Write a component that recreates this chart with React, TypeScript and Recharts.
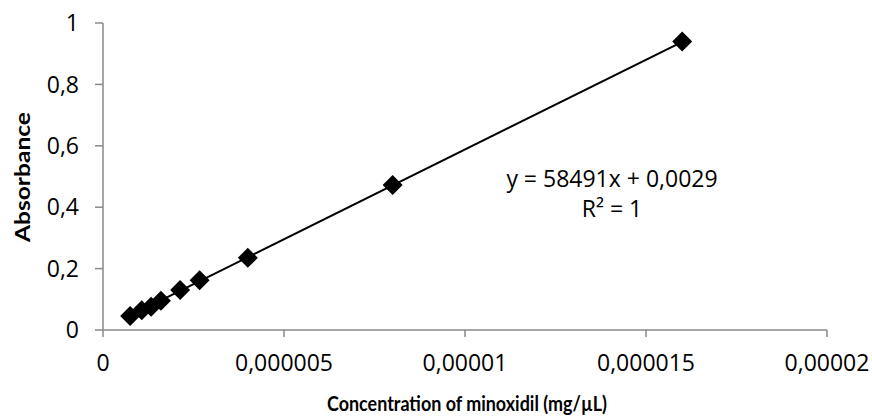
import { ScatterChart, Scatter, XAxis, YAxis } from "recharts";

// concentration (mg/µL) and absorbance
const concentrations = [0.75e-6, 1.07e-6, 1.33e-6, 1.6e-6, 2.13e-6, 2.67e-6, 4e-6, 8e-6, 16e-6];
const absorbances = [0.046, 0.064, 0.076, 0.095, 0.13, 0.162, 0.235, 0.472, 0.94];

// linear trendline endpoints (y = 58491x + 0,0029)
const trendX = [0.75e-6, 16e-6];
const trendY = [0.0468, 0.9388];

const xTicks = [0, 5e-6, 1e-5, 1.5e-5, 2e-5];
const xTickLabels = ["0", "0,000005", "0,00001", "0,000015", "0,00002"];
const yTicks = [0, 0.2, 0.4, 0.6, 0.8, 1];
const yTickLabels = ["0", "0,2", "0,4", "0,6", "0,8", "1"];

const points = concentrations.map((x, i) => ({ x, y: absorbances[i] }));
const trend = trendX.map((x, i) => ({ x, y: trendY[i] }));

const FONT = "'Open Sans', sans-serif";
const TITLE_FONT = "Lato, 'Open Sans', sans-serif";
const AXIS = "#898989";

const Diamond = (props: any) => {
  const { cx, cy } = props;
  if (cx == null || cy == null) return null;
  const r = 10;
  return (
    <polygon
      points={`${cx},${cy - r} ${cx + r},${cy} ${cx},${cy + r} ${cx - r},${cy}`}
      fill="#000"
    />
  );
};

export default function App() {
  return (
    <div style={{ position: "absolute", left: 0, top: 0, width: 872, height: 419, background: "#fff" }}>
      <ScatterChart width={872} height={419} margin={{ top: 23, right: 45, bottom: 0, left: 0 }}>
        <XAxis
          type="number"
          dataKey="x"
          domain={[0, 2e-5]}
          ticks={xTicks}
          tickFormatter={(_v, i) => xTickLabels[i]}
          height={89}
          tickSize={7}
          tickMargin={18}
          interval={0}
          stroke={AXIS}
          strokeWidth={1.5}
          tick={{ fill: "#000", fontSize: 23, fontFamily: FONT }}
        />
        <YAxis
          type="number"
          dataKey="y"
          domain={[0, 1]}
          ticks={yTicks}
          tickFormatter={(_v, i) => yTickLabels[i]}
          width={103}
          tickSize={8}
          tickMargin={16}
          interval={0}
          stroke={AXIS}
          strokeWidth={1.5}
          tick={{ fill: "#000", fontSize: 23, fontFamily: FONT }}
        />
        <Scatter
          data={trend}
          line={{ stroke: "#000", strokeWidth: 2 }}
          shape={() => null}
          isAnimationActive={false}
        />
        <Scatter data={points} shape={Diamond} isAnimationActive={false} />
      </ScatterChart>
      <svg
        width={872}
        height={419}
        style={{ position: "absolute", left: 0, top: 0, pointerEvents: "none" }}
      >
        <text x={612} y={187} textAnchor="middle" fontSize={23} fontFamily={FONT} fill="#000">
          y = 58491x + 0,0029
        </text>
        <text x={612} y={217} textAnchor="middle" fontSize={23} fontFamily={FONT} fill="#000">
          R² = 1
        </text>
        <text
          x={467}
          y={411}
          textAnchor="middle"
          fontSize={21}
          fontWeight={700}
          fontFamily={TITLE_FONT}
          fill="#000"
          textLength={280}
          lengthAdjust="spacingAndGlyphs"
        >
          Concentration of minoxidil (mg/µL)
        </text>
        <text
          x={30}
          y={177}
          transform="rotate(-90 30 177)"
          textAnchor="middle"
          fontSize={21}
          fontWeight={700}
          fontFamily={TITLE_FONT}
          fill="#000"
          textLength={130}
          lengthAdjust="spacingAndGlyphs"
        >
          Absorbance
        </text>
      </svg>
    </div>
  );
}
